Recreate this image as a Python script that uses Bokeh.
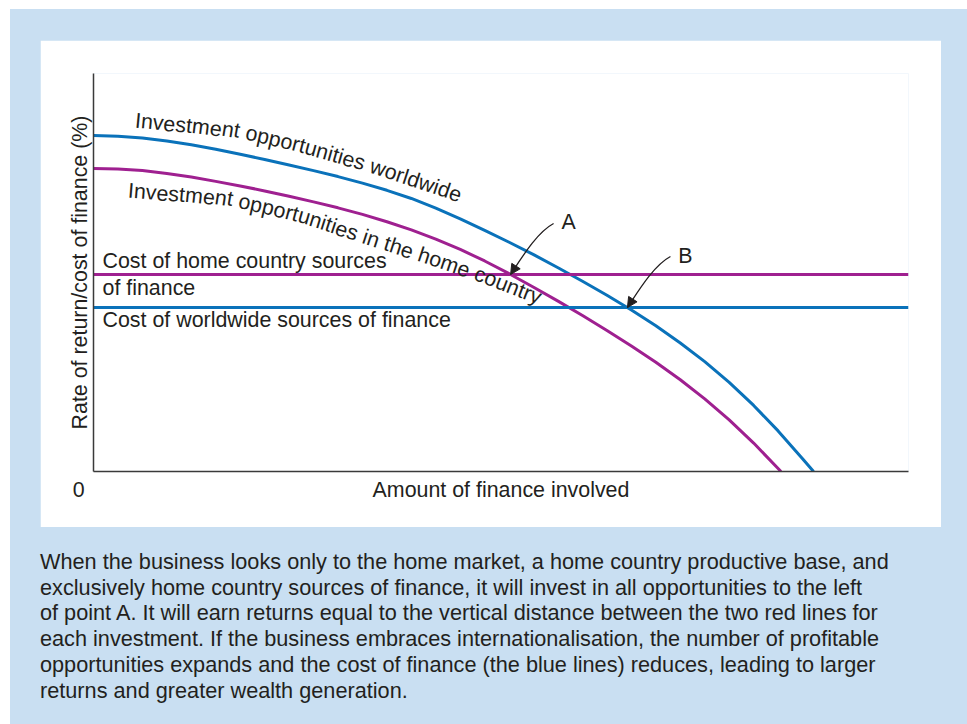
import numpy as np
from bokeh.plotting import figure
from bokeh.models import Range1d, FixedTicker, Arrow, NormalHead, Div
from bokeh.layouts import column
from bokeh.core.properties import value
from bokeh.embed import file_html
from bokeh.resources import INLINE

# ---------------- data ----------------
world_x = [0, 3, 6, 9, 12, 15, 18, 21, 24, 27, 30, 33, 36, 39, 42, 45, 48, 51, 54, 57,
           60, 63, 66, 69, 72, 75, 78, 81, 84, 87, 88.35]
world_y = [84.4, 84.25, 83.8, 83.05, 82.1, 80.95, 79.7, 78.4, 77.0, 75.6, 74.1, 72.45, 70.65,
           68.6, 66.2, 63.5, 60.6, 57.6, 54.5, 51.2, 47.8, 44.3, 40.6, 36.6, 32.3, 27.6,
           22.4, 16.6, 10.2, 3.2, 0]
home_x = [0, 3, 6, 9, 12, 15, 18, 21, 24, 27, 30, 33, 36, 39, 42, 45, 48, 51, 54, 57,
          60, 63, 66, 69, 72, 75, 78, 81, 84, 84.35]
home_y = [76.1, 76.0, 75.6, 74.9, 74.0, 72.9, 71.75, 70.5, 69.15, 67.75, 66.25, 64.6, 62.75,
          60.7, 58.4, 55.8, 52.9, 49.7, 46.3, 42.8, 39.2, 35.45, 31.55, 27.45, 23.05, 18.25,
          12.95, 7.15, 0.75, 0]
cost_x = [0, 100]
home_cost = 49.5
world_cost = 41.2

x_title = "Amount of finance involved"
y_title = "Rate of return/cost of finance (%)"
origin_label = "0"
world_label = "Investment opportunities worldwide"
home_label = "Investment opportunities in the home country"
home_cost_label = ["Cost of home country sources", "of finance"]
world_cost_label = "Cost of worldwide sources of finance"
caption_lines = [
    "When the business looks only to the home market, a home country productive base, and",
    "exclusively home country sources of finance, it will invest in all opportunities to the left",
    "of point A. It will earn returns equal to the vertical distance between the two red lines for",
    "each investment. If the business embraces internationalisation, the number of profitable",
    "opportunities expands and the cost of finance (the blue lines) reduces, leading to larger",
    "returns and greater wealth generation.",
]

# ---------------- styling / layout ----------------
BLUE = "#0a72ba"
PURPLE = "#9f2090"
INK = "#231f20"
BG = "#c9dff2"
FONT = "Liberation Sans"
FSV = 21.4
FS = f"{FSV}px"
MID = 7.0  # px from alphabetic baseline up to the 'middle' anchor

FIG_W, FIG_H = 901, 487
ML, MR, MT, MB = 53, 33, 33, 56
FRAME_W = FIG_W - ML - MR
FRAME_H = FIG_H - MT - MB
X0, X1, Y0, Y1 = 0, 100, 0, 100
sx = FRAME_W / (X1 - X0)
sy = FRAME_H / (Y1 - Y0)


def fx(px):
    return X0 + px / sx


def fy(py):
    return Y1 - py / sy


p = figure(width=FIG_W, height=FIG_H, output_backend="svg", toolbar_location=None,
           x_range=Range1d(X0, X1), y_range=Range1d(Y0, Y1),
           min_border_left=ML, min_border_right=MR, min_border_top=MT, min_border_bottom=MB,
           border_fill_color="white", background_fill_color="white")
p.outline_line_color = None
p.grid.visible = False
for ax in (p.xaxis[0], p.yaxis[0]):
    ax.major_tick_out = 0
    ax.major_tick_in = 0
    ax.minor_tick_out = 0
    ax.minor_tick_in = 0
    ax.axis_line_color = "#3a3a3a"
    ax.axis_line_width = 1.5
    ax.axis_label_text_font = FONT
    ax.axis_label_text_font_size = FS
    ax.axis_label_text_font_style = "normal"
    ax.axis_label_text_color = INK
    ax.major_label_text_font = FONT
    ax.major_label_text_font_size = FS
    ax.major_label_text_color = INK

# x axis: origin "0" and the title sit on one line, as tick labels
x_mid = (X0 + X1) / 2
p.xaxis.ticker = FixedTicker(ticks=[0, x_mid])
p.xaxis.major_label_overrides = {0: origin_label + "\u00a0" * 5, x_mid: x_title}
p.xaxis.major_label_standoff = 6
p.yaxis.ticker = FixedTicker(ticks=[])
p.yaxis.axis_label = y_title
p.yaxis.axis_label_standoff = 2

# lines
p.line(world_x, world_y, line_color=BLUE, line_width=3)
p.line(home_x, home_y, line_color=PURPLE, line_width=3)
p.line(cost_x, [home_cost, home_cost], line_color=PURPLE, line_width=3)
p.line(cost_x, [world_cost, world_cost], line_color=BLUE, line_width=3)

# labels on the cost lines (baseline offsets in px from the line, + = below)
tx = fx(9)
offs = [-6, 21, 19.5]
p.text([tx, tx, tx],
       [home_cost - (offs[0] - MID) / sy, home_cost - (offs[1] - MID) / sy,
        world_cost - (offs[2] - MID) / sy],
       text=[home_cost_label[0], home_cost_label[1], world_cost_label],
       text_font=value(FONT), text_font_size=FS, text_color=INK,
       text_align="left", text_baseline="middle")

# curved labels along baseline paths (pixels from frame top-left)
W = {' ': 278, 'I': 278, 'n': 556, 'v': 500, 'e': 556, 's': 500, 't': 278, 'm': 833,
     'o': 556, 'p': 556, 'r': 333, 'u': 556, 'i': 222, 'w': 722, 'l': 222, 'd': 556,
     'h': 556, 'c': 500, 'y': 500}
world_path = [(41, 54), (144, 64), (207, 79), (270, 97), (364, 128)]
home_path = [(34, 124), (135, 132), (207, 149), (270, 170), (323, 187), (377, 205), (434, 227)]


def along(path, text, size=FSV):
    pts = np.array(path, float)
    seg = np.diff(pts, axis=0)
    L = np.hypot(seg[:, 0], seg[:, 1])
    cum = np.concatenate([[0], np.cumsum(L)])
    mids = (cum[:-1] + cum[1:]) / 2
    angs = np.arctan2(seg[:, 1], seg[:, 0])  # screen angle (down positive)
    xs, ys, an, ch = [], [], [], []
    s = 0.0
    for c in text:
        w = W.get(c, 556) * size / 1000.0
        m = s + w / 2
        i = int(min(max(np.searchsorted(cum, m, side="right") - 1, 0), len(L) - 1))
        t = (m - cum[i]) / L[i]
        q = pts[i] + t * seg[i]
        a = float(np.interp(m, mids, angs))
        # move from baseline to the middle anchor, perpendicular to the path
        q = q + MID * np.array([np.sin(a), -np.cos(a)])
        if c != ' ':
            xs.append(fx(q[0]))
            ys.append(fy(q[1]))
            an.append(-a)
            ch.append(c)
        s += w
    return xs, ys, an, ch


for path, lab in ((world_path, world_label), (home_path, home_label)):
    xs, ys, an, ch = along(path, lab)
    p.text(xs, ys, text=ch, angle=an, text_font=value(FONT), text_font_size=FS,
           text_color=INK, text_align="center", text_baseline="middle")

# intersection points A and B
ax_ = float(np.interp(home_cost, home_y[::-1], home_x[::-1]))
bx_ = float(np.interp(world_cost, world_y[::-1], world_x[::-1]))
points = [(ax_, home_cost, "A"), (bx_, world_cost, "B")]
S, C0, C1 = (43, 51), (26, 42), (10, 15)  # pixel offsets (right, up)
for (x, y, name) in points:
    p.bezier(x0=[x + S[0] / sx], y0=[y + S[1] / sy], x1=[x], y1=[y],
             cx0=[x + C0[0] / sx], cy0=[y + C0[1] / sy],
             cx1=[x + C1[0] / sx], cy1=[y + C1[1] / sy],
             line_color=INK, line_width=1.3)
    p.add_layout(Arrow(end=NormalHead(size=10, fill_color=INK, line_color=INK, line_width=1),
                       x_start=x + 4.5 / sx, y_start=y + 7 / sy, x_end=x, y_end=y,
                       line_color=INK, line_width=1.3))
    p.text([x + 58 / sx], [y + 52 / sy], text=[name], text_font=value(FONT),
           text_font_size=FS, text_color=INK, text_align="center", text_baseline="middle")

cap_html = ("<div style=\"font-family:'Liberation Sans'; font-size:21.7px; line-height:25.7px; "
            "color:#231f20; white-space:nowrap; padding-top:17px; margin:0 0 0 -5px;\">"
            + "<br>".join(caption_lines) + "</div>")
cap = Div(text=cap_html, width=901, height=196)

layout = column(p, cap, spacing=0,
                styles={"background-color": BG, "padding": "31px 26px 0px 30px",
                        "margin-top": "9px", "margin-left": "10px"})

open("out.html", "w").write(file_html(layout, INLINE))
